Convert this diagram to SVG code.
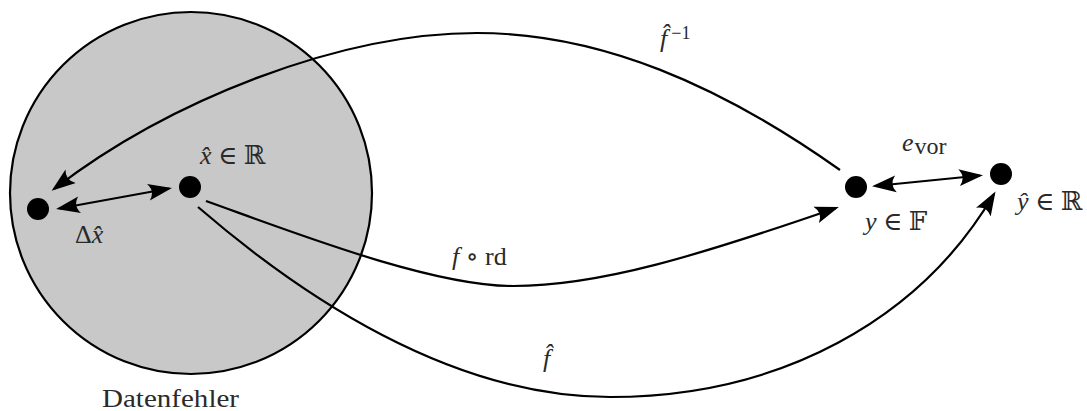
<svg xmlns="http://www.w3.org/2000/svg" width="1087" height="411" viewBox="0 0 1087 411">
<defs>
<style>
.conn{fill:none;stroke:#000;stroke-width:2.2}
.dot{fill:#000}
.t{font-family:"Liberation Serif","DejaVu Serif","DejaVu Sans",serif;font-size:26px;fill:#2a2a2a}
.i{font-style:italic}
</style>
<marker id="ah" markerUnits="userSpaceOnUse" markerWidth="24" markerHeight="18" viewBox="0 0 24 18" refX="21" refY="9" orient="auto-start-reverse">
<path d="M24,9 L0,0.5 Q7,9 0,17.5 Z" fill="#000"/>
</marker>
</defs>
<g id="datenfehler">
<circle cx="191" cy="193" r="181" fill="#c8c8c8" stroke="#000" stroke-width="2.2"/>
<text class="t" x="102" y="407" textLength="137" lengthAdjust="spacingAndGlyphs">Datenfehler</text>
</g>
<g id="node-xtilde">
<circle class="dot" cx="38" cy="209" r="11"/>
</g>
<g id="node-xhat">
<circle class="dot" cx="190" cy="187" r="11"/>
<text class="t" x="200" y="164"><tspan class="i">x̂</tspan> ∈ ℝ</text>
</g>
<g id="node-y">
<circle class="dot" cx="856" cy="187" r="11"/>
<text class="t" x="865" y="230"><tspan class="i">y</tspan> ∈ 𝔽</text>
</g>
<g id="node-yhat">
<circle class="dot" cx="1001" cy="174" r="11"/>
<text class="t" x="1017" y="210"><tspan class="i">ŷ</tspan> ∈ ℝ</text>
</g>
<g id="connectors">
<path class="conn" d="M59,208.5 L169,188.5" marker-start="url(#ah)" marker-end="url(#ah)"/>
<path class="conn" d="M875,186 L980,175.5" marker-start="url(#ah)" marker-end="url(#ah)"/>
<path class="conn" d="M840,170 C720,85 600,33 477,33 C340,33 170,100 54,189" marker-end="url(#ah)"/>
<path class="conn" d="M206,201 C290,231 430,286 513,286 C600,286 700,255 836,208" marker-end="url(#ah)"/>
<path class="conn" d="M198,207 C300,295 450,397 610,397 C780,397 920,320 994,194" marker-end="url(#ah)"/>
<text class="t" x="452" y="265"><tspan class="i">f</tspan> ∘ rd</text>
<text class="t i" x="543" y="367">f̂</text>
<text class="t" x="660" y="47"><tspan class="i">f̂</tspan><tspan font-size="18" dx="4" dy="-8">−1</tspan></text>
<text class="t" x="902" y="151"><tspan class="i">e</tspan><tspan font-size="24" dx="1" dy="3">vor</tspan></text>
<text class="t" x="75" y="243">Δ<tspan class="i">x̂</tspan></text>
</g>
</svg>
